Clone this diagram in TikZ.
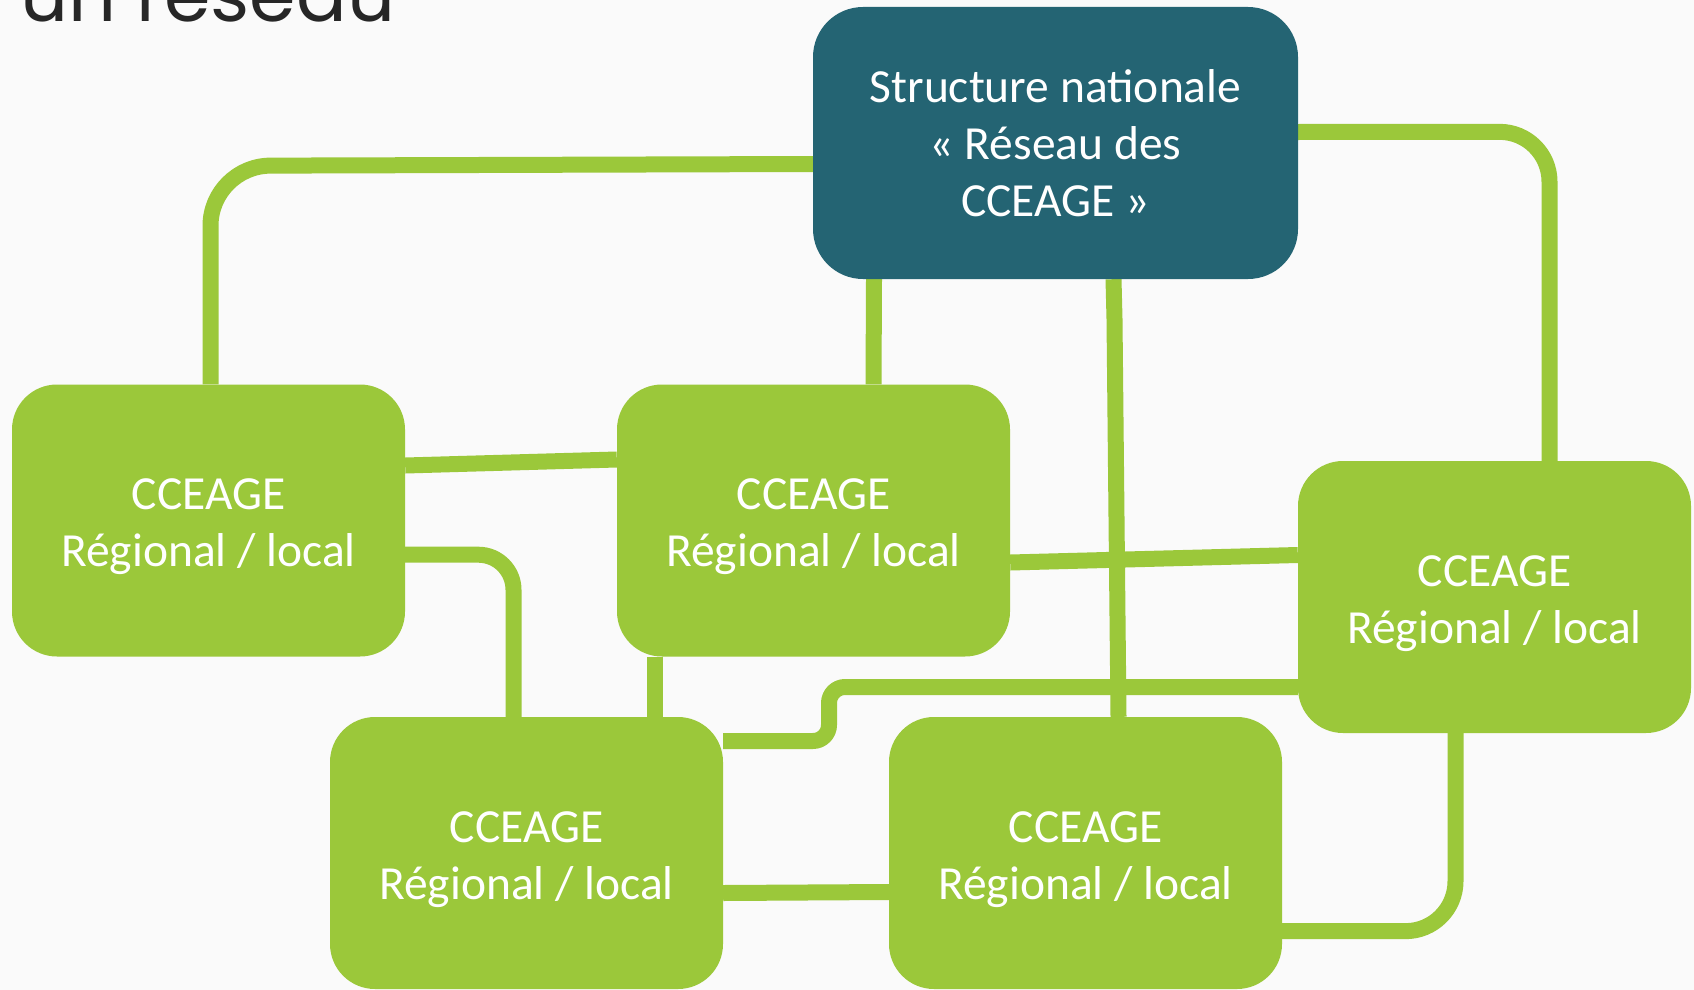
\documentclass[tikz,border=0pt]{standalone}
\usepackage{fontspec}
\setmainfont{Carlito}
\newfontfamily\titlefont{Poppins}
\usetikzlibrary{calc}
\pgfdeclarelayer{background}
\pgfsetlayers{background,main}
\definecolor{bggray}{HTML}{FAFAFA}
\definecolor{leaf}{HTML}{9BC83A}
\definecolor{natblue}{HTML}{246473}
\definecolor{ink}{HTML}{262626}
\tikzset{
  boxtext/.style={text=white, align=center, inner sep=0pt, font=\fontsize{47.5}{57}\selectfont},
  box/.style={rounded corners=45pt, minimum width=393pt, minimum height=272pt, inner sep=0pt},
  regional/.style={box, fill=leaf, label={[boxtext, yshift=-6.5pt]center:#1}},
  national/.style={box, boxtext, fill=natblue, minimum width=485pt, rounded corners=50pt},
  conn/.style={draw=leaf, line width=16pt, line join=round},
}
\begin{document}
\begin{tikzpicture}[x=1pt,y=-1pt]
\useasboundingbox (0,0) rectangle (1694,990);
\node[national] (nat) at (1055.5,143) {Structure nationale\\« Réseau des\\CCEAGE »};
\node[regional={CCEAGE\\Régional / local}] (A) at (208.5,520.5) {};
\node[regional={CCEAGE\\Régional / local}] (B) at (813.5,520.5) {};
\node[regional={CCEAGE\\Régional / local}] (C) at (1494.5,597) {};
\node[regional={CCEAGE\\Régional / local}] (D) at (526.5,853) {};
\node[regional={CCEAGE\\Régional / local}] (E) at (1085.5,853) {};
\node[anchor=base west, text=ink, inner sep=0pt, font=\titlefont\fontsize{75}{80}\selectfont] (title) at (20,22) {un réseau};
\begin{pgfonlayer}{background}
\fill[bggray] (0,0) rectangle (1694,990);
% national -> A
\draw[conn, rounded corners=60pt] ($(nat.west)+(0,21)$) -- ($(A.north)+(2,-218.5)$) -- ($(A.north)+(2,0)$);
% national -> C
\draw[conn, rounded corners=50pt] ($(nat.east)+(0,-11)$) -- ($(C.north)+(55,-329)$) -- ($(C.north)+(55,0)$);
% national -> B
\draw[conn] ($(nat.south)+(-181.5,0)$) -- ($(B.north)+(60,0)$);
% national -> E
\draw[conn] ($(nat.south)+(58,0)$) -- ($(nat.south)+(59,40)$) -- ($(E.north)+(33,0)$);
% A -> B
\draw[conn] ($(A.east)+(0,-55)$) -- ($(B.west)+(0,-61)$);
% A -> D
\draw[conn, rounded corners=35pt] ($(A.east)+(0,34)$) -- ($(D.north)+(-13,-162)$) -- ($(D.north)+(-13,0)$);
% B -> D
\draw[conn] ($(B.south)+(-159,0)$) -- ($(D.north)+(128,0)$);
% C -> D
\draw[conn, rounded corners=16pt] ($(C.west)+(0,90)$) -- (829,687) -- (829,741) -- ($(D.east)+(0,-112)$);
% B -> C
\draw[conn] ($(B.east)+(0,42)$) -- ($(C.west)+(0,-42)$);
% D -> E
\draw[conn] ($(D.east)+(0,40)$) -- ($(E.west)+(0,39)$);
% C -> E
\draw[conn, rounded corners=50pt] ($(C.south)+(-39,0)$) -- ($(C.south)+(-39,198)$) -- ($(E.east)+(0,78)$);
\end{pgfonlayer}
\end{tikzpicture}
\end{document}
